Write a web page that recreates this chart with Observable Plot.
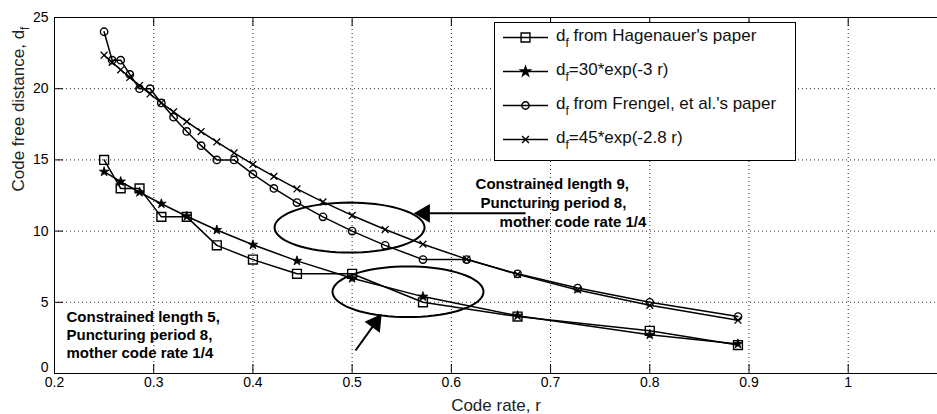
<!DOCTYPE html>
<html><head><meta charset="utf-8">
<script src="https://cdn.jsdelivr.net/npm/d3@7"></script>
<script src="https://cdn.jsdelivr.net/npm/@observablehq/plot@0.6"></script>
<style>
body{margin:0;background:#fff;font-family:"Liberation Sans",Arial,sans-serif;}
#wrap{position:relative;width:937px;height:414px;overflow:hidden;background:#fff}
#legend{position:absolute;left:494px;top:22px;width:300px;height:137px;border:1px solid #000;background:#fff}
.lrow{position:absolute;left:0;width:300px;height:24px}
.lrow svg{position:absolute;left:0;top:0}
.ltxt{position:absolute;left:61px;top:1px;font-size:17px;line-height:20px;white-space:nowrap;color:#111}
.sub{position:relative;top:6px;font-size:12px}
</style></head><body><div id="wrap"></div>
<script>
// ---- data ----
const rateK5 = [0.25, 0.2667, 0.2857, 0.3077, 0.3333, 0.3636, 0.4, 0.4444, 0.5, 0.5714, 0.6667, 0.8, 0.8889];
const dfHagenauer = [15, 13, 13, 11, 11, 9, 8, 7, 7, 5, 4, 3, 2];
const dfFit30 = [14.17, 13.48, 12.73, 11.92, 11.04, 10.08, 9.04, 7.91, 6.69, 5.40, 4.06, 2.72, 2.08];
const rateK9 = [0.25, 0.2581, 0.2667, 0.2759, 0.2857, 0.2963, 0.3077, 0.32, 0.3333, 0.3478, 0.3636, 0.381, 0.4, 0.4211, 0.4444, 0.4706, 0.5, 0.5333, 0.5714, 0.6154, 0.6667, 0.7273, 0.8, 0.8889];
const dfFrengel = [24, 22, 22, 21, 20, 20, 19, 18, 17, 16, 15, 15, 14, 13, 12, 11, 10, 9, 8, 8, 7, 6, 5, 4];
const dfFit45 = [22.35, 21.85, 21.33, 20.79, 20.22, 19.63, 19.01, 18.37, 17.69, 16.99, 16.26, 15.49, 14.68, 13.84, 12.96, 12.05, 11.10, 10.11, 9.08, 8.03, 6.96, 5.87, 4.79, 3.74];
const xTicks = [0.2, 0.3, 0.4, 0.5, 0.6, 0.7, 0.8, 0.9, 1.0];
const xTickLabels = ["0.2", "0.3", "0.4", "0.5", "0.6", "0.7", "0.8", "0.9", "1"];
const yTicks = [0, 5, 10, 15, 20, 25];
const seriesLabels = ["from Hagenauer's paper", "=30*exp(-3 r)", "from Frengel, et al.'s paper", "=45*exp(-2.8 r)"];
const notesK9 = ["Constrained length 9,", "Puncturing period 8,", "mother code rate 1/4"];
const notesK5 = ["Constrained length 5,", "Puncturing period 8,", "mother code rate 1/4"];
const xLabel = "Code rate, r";
const yLabel = "Code free distance, d";

// annotation geometry (data coordinates)
const notesK9X = [0.6244, 0.6294, 0.6486], notesK9Y = [13.27, 11.94, 10.60];
const notesK5X = [0.2121, 0.2121, 0.2121], notesK5Y = [3.93, 2.67, 1.40];
const ellipseSpecs = [{cx: 0.4974, cy: 10.25, rx: 0.0756, ry: 1.756}, {cx: 0.5563, cy: 5.74, rx: 0.0761, ry: 1.78}];
const arrowLinks = [{x1: 0.6748, y1: 11.25, x2: 0.5729, y2: 11.25}, {x1: 0.5034, y1: 1.615, x2: 0.5234, y2: 3.56}];
const arrowHeads = [{x: 0.5729, y: 11.25, rot: -90}, {x: 0.5234, y: 3.56, rot: 35.5}];

const sH = rateK5.map((r, i) => ({r, d: dfHagenauer[i]}));
const s30 = rateK5.map((r, i) => ({r, d: dfFit30[i]}));
const sF = rateK9.map((r, i) => ({r, d: dfFrengel[i]}));
const s45 = rateK9.map((r, i) => ({r, d: dfFit45[i]}));
const ellPts = [];
ellipseSpecs.forEach((e, k) => { for (let a = 0; a <= 72; a++) { const t = a / 72 * 2 * Math.PI; ellPts.push({k, x: e.cx + e.rx * Math.cos(t), y: e.cy + e.ry * Math.sin(t)}); } });
const n9 = notesK9.map((t, i) => ({t, x: notesK9X[i], y: notesK9Y[i]}));
const n5 = notesK5.map((t, i) => ({t, x: notesK5X[i], y: notesK5Y[i]}));

const FONT = "'Liberation Sans', Arial, Helvetica, sans-serif";
const lw = 1.5;
const svg = Plot.plot({
  width: 937, height: 414,
  marginLeft: 54, marginRight: 0, marginTop: 17, marginBottom: 41,
  x: {domain: [0.2, 1.09]},
  y: {domain: [0, 25]},
  style: {fontFamily: FONT, fontSize: "14px", background: "#fff", color: "#000"},
  marks: [
    Plot.ruleX(xTicks.slice(1), {x: d => d, stroke: "#000", strokeOpacity: 0.85, strokeDasharray: "1,3"}),
    Plot.ruleY(yTicks.slice(1, -1), {y: d => d, stroke: "#000", strokeOpacity: 0.85, strokeDasharray: "1,3"}),
    Plot.ruleX([0.2], {stroke: "#000"}),
    Plot.ruleY([0, 25], {stroke: "#000"}),
    Plot.ruleX(xTicks, {x: d => d, insetTop: 347, stroke: "#000"}),
    Plot.ruleX(xTicks, {x: d => d, insetBottom: 347, stroke: "#000"}),
    Plot.ruleY(yTicks, {y: d => d, insetRight: 874, stroke: "#000"}),
    Plot.axisX(xTicks, {tickSize: 0, tickPadding: 4, label: null, tickFormat: (d, i) => xTickLabels[i], fontSize: 14}),
    Plot.axisY(yTicks.slice(1), {tickSize: 0, tickPadding: 6, label: null, fontSize: 14}),
    Plot.axisY(yTicks.slice(0, 1), {tickSize: 0, tickPadding: 6, label: null, fontSize: 14, dy: -6}),
    Plot.text([xLabel], {frameAnchor: "bottom", lineAnchor: "bottom", dy: 37, fontSize: 17, fill: "#222"}),
    Plot.text([yLabel], {frameAnchor: "left", rotate: -90, dx: -36, dy: -4, fontSize: 17, fill: "#222"}),
    // series
    Plot.line(sH, {x: "r", y: "d", stroke: "#000", strokeWidth: lw}),
    Plot.dot(sH, {x: "r", y: "d", symbol: "square", r: 5, stroke: "#000", fill: "none", strokeWidth: 1.4}),
    Plot.line(s30, {x: "r", y: "d", stroke: "#000", strokeWidth: lw}),
    Plot.dot(s30, {x: "r", y: "d", symbol: "star", r: 3, fill: "#000", stroke: "#000", strokeWidth: 0.8}),
    Plot.line(sF, {x: "r", y: "d", stroke: "#000", strokeWidth: lw}),
    Plot.dot(sF, {x: "r", y: "d", symbol: "circle", r: 3.7, stroke: "#000", fill: "none", strokeWidth: 1.4}),
    Plot.line(s45, {x: "r", y: "d", stroke: "#000", strokeWidth: lw}),
    Plot.dot(s45, {x: "r", y: "d", symbol: "times", r: 3.2, stroke: "#000", strokeWidth: 1.3}),
    // annotations
    Plot.line(ellPts, {x: "x", y: "y", z: "k", stroke: "#000", strokeWidth: 2}),
    Plot.link(arrowLinks, {x1: "x1", y1: "y1", x2: "x2", y2: "y2", stroke: "#000", strokeWidth: 2}),
    Plot.dot(arrowHeads, {x: "x", y: "y", rotate: "rot", symbol: "triangle", r: 6, fill: "#000", stroke: "#000"}),
    Plot.text(n9, {x: "x", y: "y", text: "t", textAnchor: "start", fontWeight: "bold", fontSize: 15, fill: "#000"}),
    Plot.text(n5, {x: "x", y: "y", text: "t", textAnchor: "start", fontWeight: "bold", fontSize: 15, fill: "#000"})
  ]
});
svg.querySelectorAll("text").forEach(t => {
  if (t.textContent === yLabel) {
    const ts = document.createElementNS("http://www.w3.org/2000/svg", "tspan");
    ts.setAttribute("dy", "5"); ts.setAttribute("font-size", "12"); ts.textContent = "f";
    t.appendChild(ts);
  }
});
const wrap = document.getElementById("wrap");
wrap.appendChild(svg);

// legend
const legend = document.createElement("div");
legend.id = "legend";
const symbols = [{t: d3.symbolSquare, r: 5, fill: "none"}, {t: d3.symbolStar, r: 3, fill: "#000"}, {t: d3.symbolCircle, r: 3.7, fill: "none"}, {t: d3.symbolTimes, r: 3.2, fill: "none"}];
const rowCenters = [14, 48, 82, 116];
seriesLabels.forEach((lab, i) => {
  const row = document.createElement("div");
  row.className = "lrow";
  row.style.top = (rowCenters[i] - 12) + "px";
  const s = symbols[i];
  const path = d3.symbol().type(s.t).size(Math.PI * s.r * s.r)();
  row.innerHTML = `<svg width="60" height="24"><line x1="8" x2="53" y1="12.5" y2="12.5" stroke="#000" stroke-width="1.5"/>` +
    `<path d="${path}" transform="translate(30.5,12.5)" fill="${s.fill}" stroke="#000" stroke-width="1.4"/></svg>` +
    `<div class="ltxt">d<span class="sub">f</span>${lab.startsWith("=") ? "" : " "}${lab}</div>`;
  legend.appendChild(row);
});
wrap.appendChild(legend);
</script></body></html>
